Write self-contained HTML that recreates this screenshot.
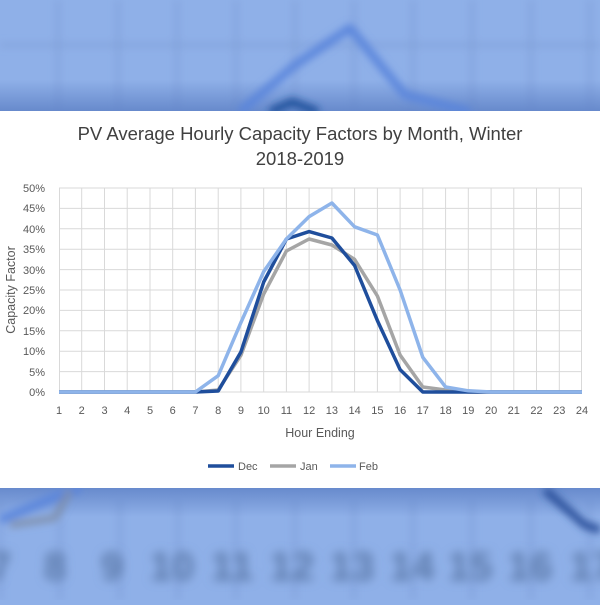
<!DOCTYPE html>
<html><head><meta charset="utf-8"><style>
body{margin:0;width:600px;height:600px;overflow:hidden;background:#8fb0e8;font-family:"Liberation Sans",sans-serif}
</style></head><body>
<svg width="600" height="600" viewBox="0 0 600 600" xmlns="http://www.w3.org/2000/svg">
<defs>
<filter id="b" x="-20%" y="-20%" width="140%" height="140%"><feGaussianBlur stdDeviation="4"/></filter>
<filter id="b2" x="-20%" y="-20%" width="140%" height="140%"><feGaussianBlur stdDeviation="5"/></filter>
<linearGradient id="sh" x1="0" y1="0" x2="0" y2="1"><stop offset="0" stop-color="#5c7fc4" stop-opacity="0"/><stop offset="1" stop-color="#5c7fc4" stop-opacity="0.8"/></linearGradient>
<linearGradient id="sh2" x1="0" y1="0" x2="0" y2="1"><stop offset="0" stop-color="#5c7fc4" stop-opacity="0.8"/><stop offset="1" stop-color="#5c7fc4" stop-opacity="0"/></linearGradient>
</defs>
<rect width="600" height="600" fill="#8fb0e8"/>
<g filter="url(#b)" stroke="#7f9fd8" stroke-width="3" fill="none">
<path d="M58 0V110M118 0V110M177 0V110M236 0V110M295 0V110M354 0V110M413 0V110M472 0V110M531 0V110M590 0V110"/>
<path d="M0 45H600"/>
<path d="M0 500V600M60 500V600M120 500V600M178 500V600M236 500V600M295 500V600M354 500V600M413 500V600M472 500V600M531 500V600M590 500V600"/>
</g>
<rect x="0" y="80" width="600" height="32" fill="url(#sh)"/>
<rect x="0" y="487" width="600" height="30" fill="url(#sh2)"/>
<g filter="url(#b)" fill="none" stroke-linejoin="round">
<path d="M240 112L295 65L350 28L405 95L470 112" stroke="#5a85dc" stroke-width="8"/>
<path d="M270 112L292 102L318 112" stroke="#1f4f9a" stroke-width="8"/>
<path d="M0 520L60 495L80 488" stroke="#5a85dc" stroke-width="8"/>
<path d="M10 525L55 518L70 490" stroke="#7f8faa" stroke-width="6"/>
<path d="M545 490L585 525L600 530" stroke="#2a4f9a" stroke-width="8"/>
</g>
<g filter="url(#b2)" fill="#5a78a8" font-size="40" font-weight="bold" text-anchor="middle">
<text x="0" y="580">7</text><text x="55" y="580">8</text><text x="112" y="580">9</text><text x="172" y="580">10</text><text x="232" y="580">11</text><text x="292" y="580">12</text><text x="352" y="580">13</text><text x="412" y="580">14</text><text x="470" y="580">15</text><text x="530" y="580">16</text><text x="592" y="580">17</text>
</g>
<rect x="0" y="111" width="600" height="377" fill="#fff"/>
<text x="300" y="140" font-size="18.5" fill="#404040" text-anchor="middle">PV Average Hourly Capacity Factors by Month, Winter</text>
<text x="300" y="165" font-size="18.5" fill="#404040" text-anchor="middle">2018-2019</text>
<g stroke="#d9d9d9" stroke-width="1">
<path d="M59 188H582M59 208.4H582M59 228.8H582M59 249.2H582M59 269.6H582M59 290H582M59 310.4H582M59 330.8H582M59 351.2H582M59 371.6H582M59 392H582"/>
<path d="M59.5 188V392M81.7 188V392M104.5 188V392M127.2 188V392M150 188V392M172.7 188V392M195.4 188V392M218.2 188V392M240.9 188V392M263.7 188V392M286.4 188V392M309.1 188V392M331.9 188V392M354.6 188V392M377.4 188V392M400.1 188V392M422.8 188V392M445.6 188V392M468.3 188V392M491.1 188V392M513.8 188V392M536.5 188V392M559.3 188V392M581.5 188V392"/>
</g>
<g font-size="11" fill="#595959" text-anchor="end">
<text x="45" y="192">50%</text><text x="45" y="212">45%</text><text x="45" y="233">40%</text><text x="45" y="253">35%</text><text x="45" y="274">30%</text><text x="45" y="294">25%</text><text x="45" y="314">20%</text><text x="45" y="335">15%</text><text x="45" y="355">10%</text><text x="45" y="376">5%</text><text x="45" y="396">0%</text>
</g>
<g font-size="11" fill="#595959" text-anchor="middle">
<text x="59" y="414">1</text><text x="81.7" y="414">2</text><text x="104.5" y="414">3</text><text x="127.2" y="414">4</text><text x="150" y="414">5</text><text x="172.7" y="414">6</text><text x="195.4" y="414">7</text><text x="218.2" y="414">8</text><text x="240.9" y="414">9</text><text x="263.7" y="414">10</text><text x="286.4" y="414">11</text><text x="309.1" y="414">12</text><text x="331.9" y="414">13</text><text x="354.6" y="414">14</text><text x="377.4" y="414">15</text><text x="400.1" y="414">16</text><text x="422.8" y="414">17</text><text x="445.6" y="414">18</text><text x="468.3" y="414">19</text><text x="491.1" y="414">20</text><text x="513.8" y="414">21</text><text x="536.5" y="414">22</text><text x="559.3" y="414">23</text><text x="582" y="414">24</text>
</g>
<text x="320" y="437" font-size="12.5" fill="#595959" text-anchor="middle">Hour Ending</text>
<text x="0" y="0" font-size="12.5" fill="#595959" text-anchor="middle" transform="translate(15 290) rotate(-90)">Capacity Factor</text>
<g fill="none" stroke-width="3.5" stroke-linejoin="round">
<polyline stroke="#a5a5a5" points="59,392 195.4,392 218.2,390 240.9,355.3 263.7,294 286.4,251 309.1,239 331.9,245 354.6,259.4 377.4,296 400.1,355 422.8,387 445.6,390 468.3,392 582,392"/>
<polyline stroke="#1f4e9c" points="59,392 195.4,392 218.2,391 240.9,352 263.7,282 286.4,239 309.1,231.6 331.9,238 354.6,265.5 377.4,320.6 400.1,369.6 422.8,392 582,392"/>
<polyline stroke="#8eb4ea" points="59,392 195.4,392 218.2,375.7 240.9,322.6 263.7,271.6 286.4,239 309.1,216.6 331.9,203 354.6,226.8 377.4,235 400.1,290 422.8,357.3 445.6,387 468.3,390.8 491.1,392 582,392"/>
</g>
<g font-size="11" fill="#595959">
<path d="M208 466H234" stroke="#1f4e9c" stroke-width="3.5"/><text x="238" y="470">Dec</text>
<path d="M270 466H296" stroke="#a5a5a5" stroke-width="3.5"/><text x="300" y="470">Jan</text>
<path d="M330 466H356" stroke="#8eb4ea" stroke-width="3.5"/><text x="359" y="470">Feb</text>
</g>
</svg>
</body></html>
